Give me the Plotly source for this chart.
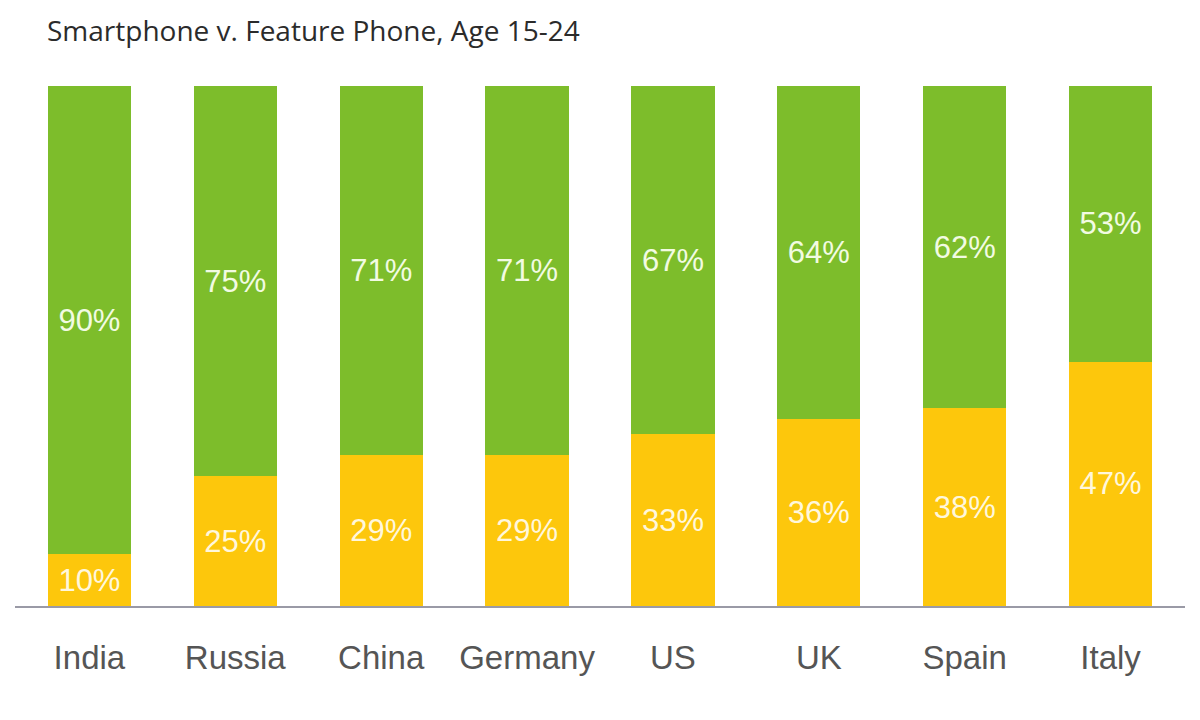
import plotly.graph_objects as go

# ==================================================
# data
# ==================================================

countries = ["India", "Russia", "China", "Germany", "US", "UK", "Spain", "Italy"]
feature_phone = [10, 25, 29, 29, 33, 36, 38, 47]
smartphone = [90, 75, 71, 71, 67, 64, 62, 53]

GREEN = "#7dbd2b"
YELLOW = "#fdc70c"

fig = go.Figure()

fig.add_trace(go.Bar(
    x=countries,
    y=feature_phone,
    name="Feature Phone",
    marker=dict(color=YELLOW, line=dict(width=0)),
    text=[f"{v}%" for v in feature_phone],
    textposition="inside",
    insidetextanchor="middle",
    textfont=dict(family="Liberation Sans, Arial", size=31, color="#fff7dc"),
))

fig.add_trace(go.Bar(
    x=countries,
    y=smartphone,
    name="Smartphone",
    marker=dict(color=GREEN, line=dict(width=0)),
    text=[f"{v}%" for v in smartphone],
    textposition="inside",
    insidetextanchor="middle",
    textfont=dict(family="Liberation Sans, Arial", size=31, color="#f2fbe2"),
))

# layout (page adds ~8px body margin, so everything shifted by that)
fig.update_layout(
    width=1200,
    height=720,
    barmode="stack",
    bargap=0.43,
    showlegend=False,
    plot_bgcolor="white",
    paper_bgcolor="white",
    margin=dict(l=7, r=23, t=78, b=122),
    uniformtext=dict(mode="show", minsize=31),
    xaxis=dict(
        range=[-0.51, 7.51],
        showline=True,
        linecolor="#9a9aa6",
        linewidth=2,
        ticks="",
        ticklabelstandoff=21,
        tickfont=dict(family="Liberation Sans, Arial", size=33, color="#555555"),
        showgrid=False,
    ),
    yaxis=dict(
        range=[0, 100],
        visible=False,
        showgrid=False,
    ),
    annotations=[
        dict(
            text="Smartphone v. Feature Phone, Age 15-24",
            xref="paper", yref="paper",
            x=0, xanchor="left",
            y=1.0, yanchor="middle",
            xshift=30,
            yshift=56,
            showarrow=False,
            font=dict(family="Open Sans, Noto Sans", size=28, color="#2b2b2b"),
        )
    ],
)

fig.write_html("out.html")
